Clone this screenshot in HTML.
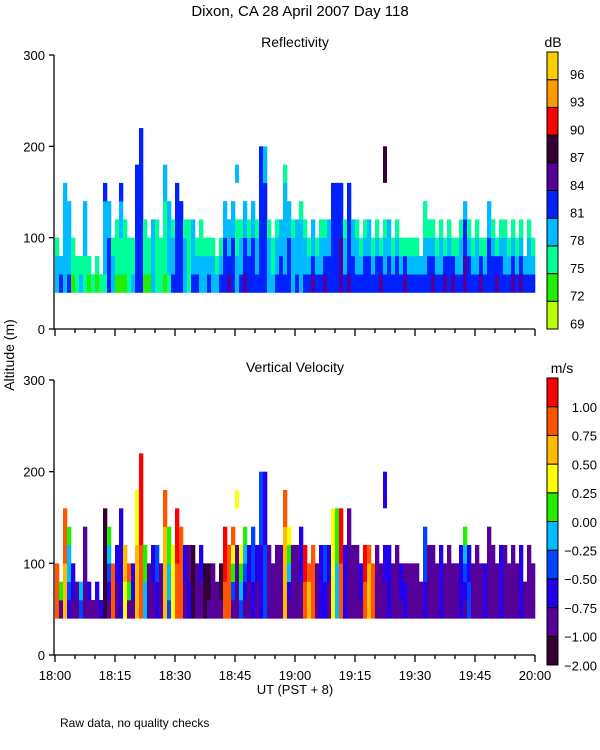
<!DOCTYPE html>
<html><head><meta charset="utf-8"><style>
html,body{margin:0;padding:0;background:#fff;}
svg{display:block;font-family:"Liberation Sans",sans-serif;}
text{fill:#000;}
</style></head><body>
<svg id="chart" width="600" height="750" viewBox="0 0 600 750">
<text x="300" y="16" text-anchor="middle" font-size="15">Dixon, CA 28 April 2007  Day 118</text>
<text x="295" y="47" text-anchor="middle" font-size="14">Reflectivity</text>
<text x="295" y="372" text-anchor="middle" font-size="14">Vertical Velocity</text>
<text x="553" y="47" text-anchor="middle" font-size="14">dB</text>
<text x="562" y="373" text-anchor="middle" font-size="14">m/s</text>
<text transform="translate(14,355) rotate(-90)" text-anchor="middle" font-size="14">Altitude (m)</text>
<text x="295" y="694" text-anchor="middle" font-size="13">UT  (PST + 8)</text>
<text x="60" y="727" font-size="12">Raw data, no quality checks</text>
<g id="refl"></g>
<g id="vel"></g>
<g id="bars"></g>
</svg>
<script>
const tops=[100,80,160,140,100,80,80,140,80,60,80,60,160,140,100,120,160,120,100,100,180,220,120,100,120,120,100,180,140,120,160,140,120,120,120,100,120,100,100,100,80,100,140,120,140,120,120,140,120,140,120,200,200,120,100,120,120,180,140,120,
120,140,120,100,120,100,120,120,120,160,160,160,120,160,120,120,100,120,120,100,120,100,120,120,100,120,100,100,100,100,100,80,140,120,120,100,120,100,120,100,100,120,140,120,100,120,100,100,140,120,100,120,120,100,120,100,120,80,120,100];
const refLow=[77,81,78,80,73,74,77,75,73,74,73,74,76,81,78,73,72,73,74,77,80,81,73,72,79,76,74,73,76,80,81,80,78,76,80,82,78,77,81,78,79,80,82,84,81,79,81,83,82,81,80,82,82,78,77,80,82,80,81,78,
80,78,80,82,84,81,80,83,82,81,82,84,81,83,82,81,80,82,82,81,82,84,80,81,80,82,81,83,82,81,82,81,80,82,84,82,81,83,82,84,82,81,84,82,82,81,83,82,81,82,84,82,81,82,83,82,84,82,81,82];
const refHigh=[76,77,78,77,75,74,75,78,74,72,74,73,80,78,76,75,81,76,75,74,81,81,75,76,77,76,75,78,79,76,81,80,76,75,77,76,75,76,75,76,74,75,78,77,78,75,76,77,75,78,76,80,79,76,75,76,77,76,78,76,
77,76,75,76,77,76,75,76,77,81,80,81,76,80,77,76,75,76,77,75,76,75,76,77,75,76,75,76,75,75,76,78,75,76,75,76,75,76,75,76,75,76,78,75,76,75,76,75,78,76,75,76,75,76,75,76,75,78,76,75];
const velLow=[0.9,-0.9,0.6,-0.6,-0.9,-0.9,-0.4,-0.9,-0.9,-0.9,-0.9,-0.6,-1.5,-0.9,0.9,-0.9,-0.6,0.4,-0.9,-0.9,0.6,0.9,-0.1,-0.9,-0.9,-0.6,-0.9,0.6,-0.3,0.4,0.9,0.9,-0.9,-0.6,-1.5,-0.9,-0.9,-1.5,-0.9,-0.9,-0.9,-0.9,0.9,0.9,-0.9,-0.9,-0.4,-0.9,-0.9,-0.6,-0.9,-0.6,-0.4,-0.9,-0.9,-0.9,-0.9,0.6,-0.9,-0.9,
-0.9,-0.9,0.9,0.6,0.9,-0.9,-0.6,-0.6,-0.9,0.4,-0.1,0.9,-0.6,-0.9,-0.9,-0.9,-0.9,0.9,0.6,0.9,-0.9,-0.9,-0.9,-0.6,-0.9,-0.9,-0.9,-0.6,-0.9,-0.9,-0.9,-0.9,-0.6,-0.9,-0.9,-0.9,-0.6,-0.9,-0.9,-0.9,-0.9,-0.6,-0.9,-0.4,-0.9,-0.9,-0.9,-0.6,-0.9,-0.9,-0.9,-0.6,-0.9,-0.9,-0.9,-0.9,-0.6,-0.9,-0.9,-0.9];
const velHigh=[0.8,0.1,0.9,0.1,-0.6,-0.9,-0.2,-0.9,-0.6,-0.9,-0.6,-0.6,-1.5,0.1,0.9,-0.6,-0.6,0.6,0.9,-0.6,0.4,1.1,0.1,-0.9,-0.6,-0.4,-0.9,0.8,0.1,0.4,1.1,0.9,-0.6,-0.9,-1.5,-0.9,-0.6,-1.5,-1.5,-0.9,-0.9,-1.5,1.1,0.9,0.9,-0.9,0.4,0.1,-0.6,-0.4,-0.6,-0.4,-0.6,-0.9,-0.9,-0.9,-0.9,0.8,0.4,-0.9,
-0.9,-0.6,1.1,0.8,0.9,-0.9,-0.6,-0.4,-0.6,0.4,0.1,1.1,-0.6,-0.9,-0.9,-0.9,-0.6,1.1,0.8,0.9,-0.9,-0.9,-0.6,-0.6,-0.9,-0.9,-0.6,-0.9,-0.9,-0.9,-0.9,-0.9,-0.4,-0.9,-0.9,-0.9,-0.6,-0.9,-0.9,-0.9,-0.9,-0.6,0.0,-0.6,-0.9,-0.9,-0.9,-0.6,-0.9,-0.9,-0.9,-0.6,-0.9,-0.9,-0.9,-0.9,-0.6,-0.9,-0.9,-0.9];
const floatMin=[82,45];
const floatBottom=[160,160];
const floatTop=[200,180];
const floatRef=[87,78];
const floatVel=[-0.6,0.4];
const refLabels=["69","72","75","78","81","84","87","90","93","96"];
const velLabels=["\u22122.00","\u22121.00","\u22120.75","\u22120.50","\u22120.25","0.00","0.25","0.50","0.75","1.00"];
const timeLabels=["18:00","18:15","18:30","18:45","19:00","19:15","19:30","19:45","20:00"];
const altTicks=[0,100,200,300];

const refColors=["#bbff00","#22ee00","#00ff99","#00bbff","#0022ff","#550099","#330033","#ff0000","#ff9900","#ffcc00"];
const velColors=["#330033","#550099","#2200ee","#0044ff","#00bbff","#22ee00","#ffff00","#ffbb00","#ff5500","#ff0000"];
const NS='http://www.w3.org/2000/svg';
const X0=55,X1=535,NMIN=120;
const xs=m=>X0+(X1-X0)*m/NMIN;
const panels=[{g:'refl',y0:329,y300:55},{g:'vel',y0:655,y300:380}];
function refIdx(v){return Math.max(0,Math.min(9,Math.floor((v-67.5)/3)));}
function velIdx(v){if(v<-1)return 0;return Math.max(1,Math.min(9,Math.floor((v+1)/0.25)+1));}
function mk(tag,parent,attrs){const e=document.createElementNS(NS,tag);for(const k in attrs)e.setAttribute(k,attrs[k]);parent.appendChild(e);return e;}
panels.forEach((p,pi)=>{
  const g=document.getElementById(p.g);
  const ys=a=>p.y0+(p.y300-p.y0)*a/300;
  const cells=mk('g',g,{});
  for(let i=0;i<tops.length;i++){
    const top=tops[i];
    for(let a=40;a<top;a+=20){
      const f=top>60?(a-40)/(top-60):0;
      let c;
      if(pi===0)c=refColors[refIdx(refLow[i]+(refHigh[i]-refLow[i])*f)];
      else c=velColors[velIdx(velLow[i]+(velHigh[i]-velLow[i])*f)];
      const r=mk('rect',cells,{x:xs(i),y:ys(a+20),width:xs(i+1)-xs(i)+0.3,height:ys(a)-ys(a+20)+0.3,fill:c});
      
      
    }
  }
  for(let k=0;k<floatMin.length;k++){
    const c=pi===0?refColors[refIdx(floatRef[k])]:velColors[velIdx(floatVel[k])];
    const r=mk('rect',cells,{x:xs(floatMin[k]),y:ys(floatTop[k]),width:xs(1)-xs(0),height:ys(floatBottom[k])-ys(floatTop[k]),fill:c});
    
    
  }
  const ax=mk('g',g,{stroke:'#000','stroke-width':1.3,fill:'none'});
  
  
  mk('line',ax,{x1:54,y1:p.y300,x2:54,y2:p.y0});
  mk('line',ax,{x1:54,y1:p.y0,x2:X1,y2:p.y0});
  altTicks.forEach(a=>{
    mk('line',ax,{x1:49,y1:ys(a),x2:54,y2:ys(a)});
    const t=mk('text',g,{x:45,y:ys(a)+5,'text-anchor':'end','font-size':13});
    t.textContent=a;
    
    
  });
  for(let m=0;m<=NMIN;m+=5){
    mk('line',ax,{x1:xs(m),y1:p.y0,x2:xs(m),y2:p.y0+(m%15===0?7:4)});
  }
  if(pi===1){
    timeLabels.forEach((l,k)=>{
      const t=mk('text',g,{x:xs(k*15),y:680,'text-anchor':'middle','font-size':13});
      t.textContent=l;
      
      
    });
  }
});
// colorbars
const bars=document.getElementById('bars');
function colorbar(y0,y1,cols,labels,lx,anchor,dy){
  const h=(y1-y0)/cols.length;
  for(let k=0;k<cols.length;k++){
    const yy=y1-(k+1)*h;
    const r=mk('rect',bars,{x:547,y:yy,width:11,height:h,fill:cols[k],stroke:'#000','stroke-width':1});
    
    
    const t=mk('text',bars,{x:lx,y:yy+dy,'text-anchor':anchor,'font-size':13});
    t.textContent=labels[k];
    
    
  }
}
colorbar(52,329,refColors,refLabels,570,'start',27);
colorbar(378,665,velColors,velLabels,597,'end',34);
</script>
</body></html>
